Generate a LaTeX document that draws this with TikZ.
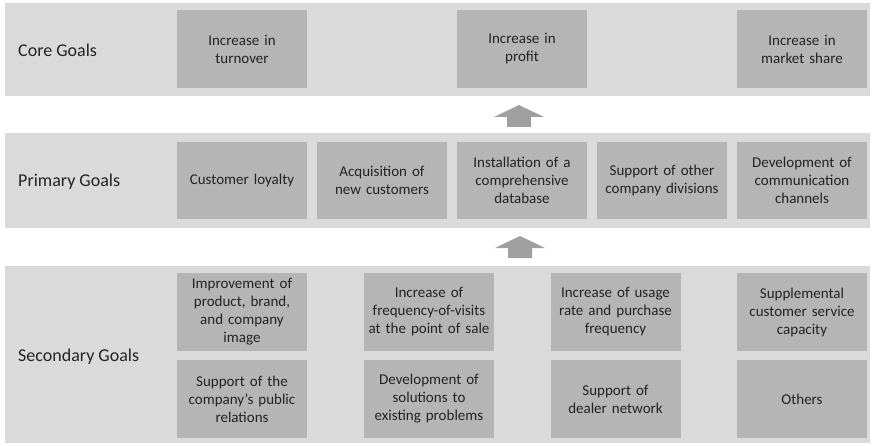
\documentclass[tikz,border=0pt]{standalone}
\usepackage{fontspec}
\setmainfont{Carlito}
\usetikzlibrary{calc}
\definecolor{bandgray}{RGB}{218,218,218}
\definecolor{boxgray}{RGB}{181,181,181}
\definecolor{arrowgray}{RGB}{160,160,160}
\definecolor{txtgray}{RGB}{35,35,35}
\tikzset{
  band/.style={fill=bandgray, draw=none},
  goalbox/.style={fill=boxgray, draw=none, minimum width=130pt, minimum height=78pt,
    text width=128pt, align=center, inner sep=0pt, text=txtgray,
    font=\fontsize{15}{18}\selectfont},
  bandlabel/.style={anchor=west, text=txtgray, inner sep=0pt, font=\fontsize{18}{21}\selectfont},
  blockarrow/.style={fill=arrowgray, draw=none}
}
\begin{document}
\begin{tikzpicture}[x=1pt,y=-1pt]
\useasboundingbox (0,0) rectangle (874,446);
% bands
\fill[band] (5,3) rectangle (870,96);
\fill[band] (5,133) rectangle (870,228);
\fill[band] (5,266) rectangle (870,443);
% labels
\node[bandlabel] (lcore) at (18,50) {Core Goals};
\node[bandlabel] (lprim) at (18,182) {Primary Goals};
\node[bandlabel] (lsec) at (18,357) {Secondary Goals};
% core
\node[goalbox] (c1) at (242,49) {Increase in\\turnover};
\node[goalbox] (c2) at (522,49) {Increase in\\profit};
\node[goalbox] (c3) at (802,49) {Increase in\\market share};
% primary
\node[goalbox, minimum height=77pt] (p1) at (242,180.5) {Customer loyalty};
\node[goalbox, minimum height=77pt] (p2) at (382,180.5) {Acquisition of\\new customers};
\node[goalbox, minimum height=77pt] (p3) at (522,180.5) {Installation of a\\comprehensive\\database};
\node[goalbox, minimum height=77pt] (p4) at (662,180.5) {Support of other\\company divisions};
\node[goalbox, minimum height=77pt] (p5) at (802,180.5) {Development of\\communication\\channels};
% secondary
\node[goalbox] (s1) at (242,312) {Improvement of\\product, brand,\\and company\\image};
\node[goalbox] (s2) at (429,312) {Increase of\\frequency-of-visits\\at the point of sale};
\node[goalbox] (s3) at (615.5,312) {Increase of usage\\rate and purchase\\frequency};
\node[goalbox] (s4) at (802,312) {Supplemental\\customer service\\capacity};
\node[goalbox] (s5) at (242,399) {Support of the\\company's public\\relations};
\node[goalbox] (s6) at (429,399) {Development of\\solutions to\\existing problems};
\node[goalbox] (s7) at (615.5,399) {Support of\\dealer network};
\node[goalbox] (s8) at (802,399) {Others};
% arrows
\coordinate (a1) at (519,127);
\coordinate (a2) at (520,258);
\foreach \a in {a1,a2}{
  \fill[blockarrow] ($(\a)+(-12,0)$) -- ++(0,-10) -- ++(-13,0) -- ++(25,-12) -- ++(25,12) -- ++(-13,0) -- ++(0,10) -- cycle;
}
\end{tikzpicture}
\end{document}
